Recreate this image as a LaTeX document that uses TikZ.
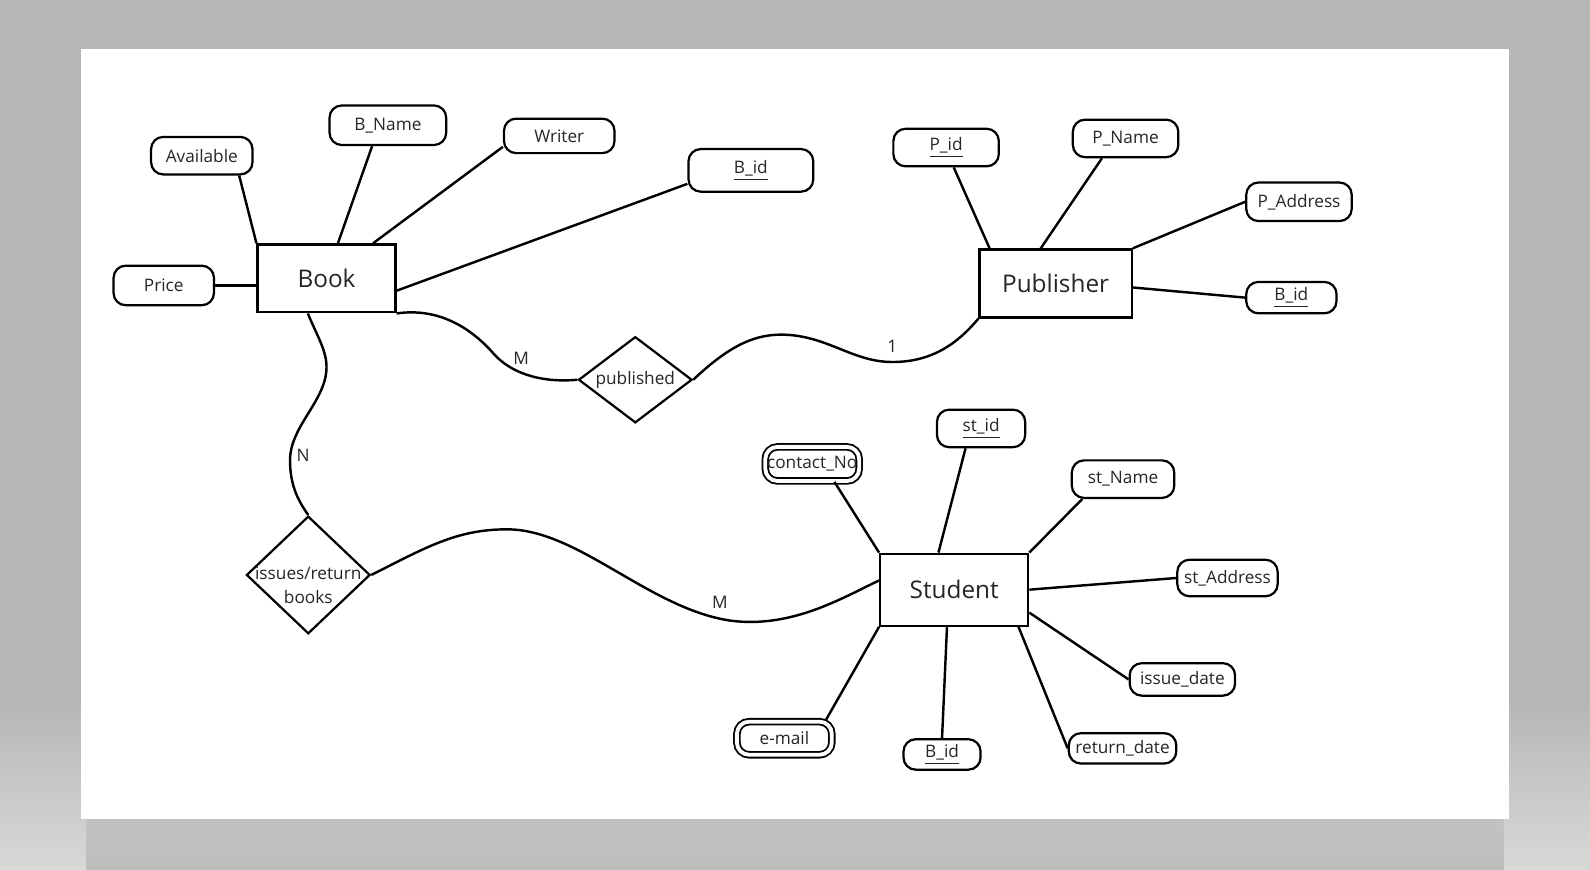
\documentclass[tikz,border=0pt]{standalone}
\usepackage{fontspec}
\setmainfont{Open Sans}
\usetikzlibrary{shapes.geometric}
\definecolor{bggray}{HTML}{B5B7B6}
\definecolor{bgband}{HTML}{C1C3C1}
\definecolor{bgside}{HTML}{D7D9D7}
\definecolor{ink}{HTML}{262626}

\begin{document}
\begin{tikzpicture}[x=0.5pt, y=-0.5pt,
    entity/.style = {draw, line width=1.1pt, inner sep=0pt, text=ink, font=\fontsize{12}{14}\selectfont},
    attr/.style = {draw, rounded corners=6pt, line width=1.1pt, inner sep=0pt, text=ink, font=\fontsize{8.5}{10}\selectfont},
    multi/.style = {attr, double, line width=0.9pt, double distance=1.9pt},
    relation/.style = {draw, diamond, line width=1.1pt, inner sep=0pt, text=ink, font=\fontsize{8.5}{10}\selectfont},
    card/.style = {text=ink, font=\fontsize{8.5}{10}\selectfont},
    link/.style = {line width=1.2pt}]

    % sfondo
    \useasboundingbox (0,0) rectangle (1568,857);
    \fill[bggray] (0,0) rectangle (1568,857);
    \shade[top color=bgband, bottom color=bggray!40!bgband] (0,808) rectangle (1568,857);
    \shade[top color=bggray, bottom color=bgside] (0,690) rectangle (85,857);
    \shade[top color=bggray, bottom color=bgside] (1483,690) rectangle (1568,857);
    \fill[white] (80,48) rectangle (1488,808);

    % entita
    \node[entity, minimum width=68pt, minimum height=33.5pt] (book) at (322,274.5) {Book};
    \node[entity, minimum width=75pt, minimum height=33.5pt] (publ) at (1041,279.5) {Publisher};
    \node[entity, minimum width=73pt, minimum height=35.5pt] (stud) at (941,581.5) {Student};

    % relazioni
    \node[relation, aspect=1.32, minimum width=56pt, minimum height=42.5pt] (pubrel) at (626.5,374.5) {published};
    \node[relation, minimum width=61pt, minimum height=58pt] (issues) at (304,567) {};
    \node[card, align=center, font=\fontsize{8.5}{11.5}\selectfont] (issuestxt) at (304,577) {issues/return\\books};

    % attributi di Book
    \node[attr, minimum width=50pt, minimum height=18.5pt] (avail) at (199,153.5) {Available};
    \node[attr, minimum width=57.5pt, minimum height=19.5pt] (bname) at (382.5,123.5) {B\_Name};
    \node[attr, minimum width=54.5pt, minimum height=17pt] (writer) at (551.5,134) {Writer};
    \node[attr, minimum width=61.5pt, minimum height=21pt] (bidb) at (740.5,168) {\underline{B\_id}};
    \node[attr, minimum width=49.5pt, minimum height=19.5pt] (price) at (161.5,281.5) {Price};

    % attributi di Publisher
    \node[attr, minimum width=52pt, minimum height=18.5pt] (pid) at (933,145.5) {\underline{P\_id}};
    \node[attr, minimum width=52pt, minimum height=18.5pt] (pname) at (1110,136.5) {P\_Name};
    \node[attr, minimum width=52pt, minimum height=19pt] (paddr) at (1281,199) {P\_Address};
    \node[attr, minimum width=44.5pt, minimum height=15.5pt] (bidp) at (1273.5,293.5) {\underline{B\_id}};

    % attributi di Student
    \node[attr, minimum width=43.5pt, minimum height=18.5pt] (stid) at (967.5,422.5) {\underline{st\_id}};
    \node[multi, minimum width=46.3pt, minimum height=16.8pt] (contact) at (801,457.5) {contact\_No};
    \node[attr, minimum width=50.5pt, minimum height=18.5pt] (stname) at (1107.5,472.5) {st\_Name};
    \node[attr, minimum width=49.5pt, minimum height=18pt] (stadd) at (1210.5,570) {st\_Address};
    \node[attr, minimum width=52pt, minimum height=16pt] (issue) at (1166,670) {issue\_date};
    \node[attr, minimum width=53pt, minimum height=15pt] (ret) at (1107,738) {return\_date};
    \node[attr, minimum width=38pt, minimum height=15pt] (bids) at (929,744) {\underline{B\_id}};
    \node[multi, minimum width=46.8pt, minimum height=16.3pt] (email) at (773.5,728) {e-mail};

    % collegamenti degli attributi
    \draw[link] (avail.-28) -- (book.north west);
    \draw[link] (bname.-127) -- (book.72);
    \draw[link] (writer.191) -- (book.37);
    \draw[link] (bidb.192) -- (book.-10);
    \draw[link] (price.east) -- (price.east -| book.west);

    \draw[link] (pid.-69) -- (publ.152);
    \draw[link] (pname.-140) -- (publ.113);
    \draw[link] (paddr.west) -- (publ.north east);
    \draw[link] (bidp.west) -- (publ.-3);

    \draw[link] (stid.-128) -- (stud.113);
    \draw[link] (contact.-39) -- (stud.north west);
    \draw[link] (stname.-154) -- (stud.north east);
    \draw[link] (stadd.west) -- (stud.east);
    \draw[link] (issue.west) -- (stud.-17);
    \draw[link] (ret.west) -- (stud.-30);
    \draw[link] (bids.north) -- (stud.-101);
    \draw[link] (email.23) -- (stud.south west);

    % archi delle relazioni
    \draw[link] (book.south east) .. controls (440,302) and (472,332) .. (487,349)
        .. controls (502,366) and (530,378) .. (pubrel.west);
    \draw[link] (pubrel.east) .. controls (715,345) and (740,330) .. (770,330)
        .. controls (815,330) and (840,357) .. (880,357)
        .. controls (920,357) and (945,338) .. (publ.south west);
    \draw[link] (book.-118) .. controls (312,330) and (322,345) .. (322,362)
        .. controls (322,395) and (286,420) .. (286,454)
        .. controls (286,480) and (295,495) .. (issues.north);
    \draw[link] (issues.east) .. controls (420,540) and (450,522) .. (500,522)
        .. controls (570,522) and (640,600) .. (720,612)
        .. controls (780,620) and (830,590) .. (stud.173);

    % cardinalita
    \node[card] (m1) at (514,353) {M};
    \node[card] (one) at (880,342) {1};
    \node[card] (n1) at (299,449) {N};
    \node[card] (m2) at (710,594) {M};

\end{tikzpicture}
\end{document}
